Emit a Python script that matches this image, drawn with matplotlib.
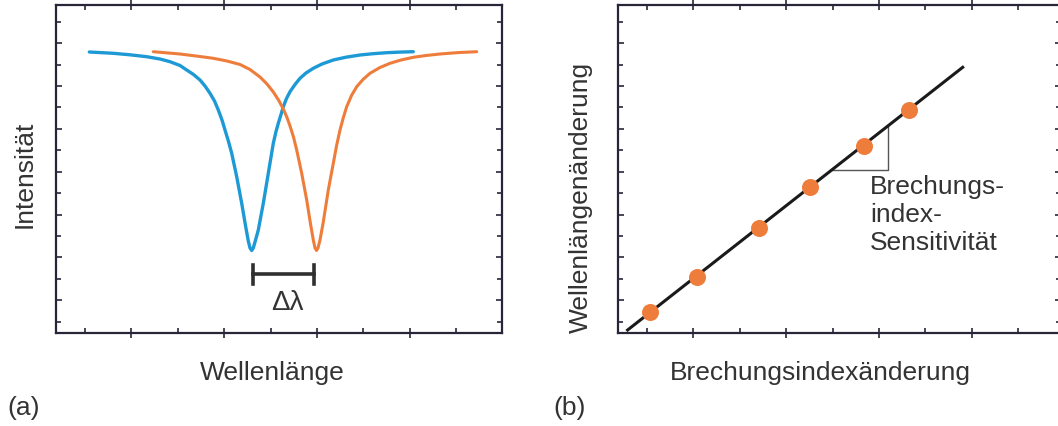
import matplotlib
matplotlib.use("Agg")
import matplotlib.pyplot as plt
from matplotlib.ticker import FixedLocator, NullFormatter

plt.rcParams['font.family'] = ['Liberation Sans', 'DejaVu Sans']

# ---------------- data (arbitrary units) ----------------
# Panel (a): two resonance dips, wavelength (a.u.) vs intensity (a.u.)
blue_x = [33.3, 57.3, 74, 90.7, 104, 114, 124, 130.7, 137.5, 144, 149, 154, 158.5, 162.3,
          166, 169, 172.5, 175.7, 180.7, 185.7, 189.7, 192.3, 194, 195.7, 197.3, 199,
          202.3, 207.3, 212.3, 217.3, 220, 222.3, 225, 227.3, 230.5, 234, 239, 244, 250,
          257.3, 266, 277.3, 290, 304, 317, 330.7, 344, 357.3]
blue_y = [281, 279.7, 278.2, 276.3, 274, 271.3, 267.5, 263, 258.5, 253, 247, 239.7, 232, 223,
          213, 203, 191.5, 179.7, 156.3, 129.7, 106.3, 92, 85, 82.5, 85, 91,
          103, 129.7, 159.7, 189.7, 201.5, 209.7, 218.5, 226.3, 234.5, 241.3, 248.5, 254.7, 260,
          264.7, 269, 273, 275.8, 278, 279.3, 280.3, 280.9, 281.3]

orange_x = [97.3, 124, 144, 157.3, 171, 184, 194, 204, 211, 217.3, 222.5, 227.3, 231, 234,
            237.5, 240.7, 245.7, 250.7, 254.7, 257.3, 259, 260.5, 262, 264, 267.3, 272.3,
            277.3, 280.5, 284, 287.5, 290.7, 295.5, 300.7, 307, 314, 324, 334, 345, 357.3,
            370, 384, 402, 420.7]
orange_y = [281.3, 279, 276.5, 274.7, 272, 268.5, 263.5, 256, 249, 241, 233, 224, 215.5, 207,
            196, 183, 159.7, 133, 108, 93, 85, 82.5, 85, 93, 111, 143,
            169.7, 187, 203, 216, 226.3, 237.5, 246.3, 253.5, 259.7, 265.5, 269.7, 273, 275.7,
            277.5, 279, 280.4, 281.3]

delta_x = [196.5, 257.5]   # Δλ bracket (between the two minima)
delta_y = 59

# Panel (b): refractive index change (a.u.) vs wavelength shift (a.u.)
fit_x = [9.6, 344.7]
fit_y = [3.0, 265.7]
pts_x = [31.5, 78.7, 141, 192.1, 246.3, 290.8]
pts_y = [21, 56.2, 105, 145.8, 187.5, 222.6]
tri_x = [213.7, 269.7]     # slope triangle horizontal extent

# ticks (a.u.)
xmaj = [75.4, 168.2, 261.0, 353.8, 446.6]
xmin = [29.0, 121.8, 214.6, 307.4, 400.2]
ymaj = [32.7, 75.6, 118.4, 161.3, 204.1, 247.0, 289.8]
ymin = [11.3, 54.2, 97.0, 139.9, 182.7, 225.6, 268.4, 311.3]

# ---------------- styling ----------------
W, H = 1058, 426
fig = plt.figure(figsize=(W / 100, H / 100), dpi=100)
fig.patch.set_facecolor('white')

spine_c = '#262638'
text_c = '#333333'
blue_c = '#1d9ad6'
orange_c = '#ee7d3c'
FS = 19

def px_axes(l, r, t, b):
    return fig.add_axes([l / W, 1 - b / H, (r - l) / W, (b - t) / H])

def style(ax, xr):
    ax.set_xlim(0, xr)
    ax.set_ylim(-0.3, 328)
    for s in ax.spines.values():
        s.set_color(spine_c)
        s.set_linewidth(1.6)
    ax.xaxis.set_major_locator(FixedLocator(xmaj))
    ax.xaxis.set_minor_locator(FixedLocator(xmin))
    ax.yaxis.set_major_locator(FixedLocator(ymaj))
    ax.yaxis.set_minor_locator(FixedLocator(ymin))
    ax.xaxis.set_major_formatter(NullFormatter())
    ax.yaxis.set_major_formatter(NullFormatter())
    ax.tick_params(which='both', direction='in', top=True, right=True,
                   color=spine_c, width=1.2)
    ax.tick_params(which='major', length=4.5)
    ax.tick_params(which='minor', length=3.5)
    ax.tick_params(axis='x', which='major', direction='inout', length=7)
    ax.set_facecolor('white')

# ---------------- panel (a) ----------------
ax1 = px_axes(56, 501.7, 5, 333.3)
style(ax1, 445.7)
ax1.plot(blue_x, blue_y, color=blue_c, lw=2.4, solid_capstyle='round', solid_joinstyle='round')
ax1.plot(orange_x, orange_y, color=orange_c, lw=2.2, solid_capstyle='round', solid_joinstyle='round')
ax1.plot(delta_x, [delta_y, delta_y], color='#303030', lw=2.6)
for xx in delta_x:
    ax1.plot([xx, xx], [delta_y - 9.5, delta_y + 9.5], color='#303030', lw=2.6)
ax1.text(sum(delta_x) / 2 + 4, 30, 'Δλ', fontsize=20, color=text_c,
         ha='center', va='center')

fig.text(25 / W, 1 - 174 / H, 'Intensität', rotation=90, fontsize=FS, color=text_c,
         ha='center', va='center')
fig.text(272 / W, 1 - 373 / H, 'Wellenlänge', fontsize=FS, color=text_c,
         ha='center', va='center')
fig.text(7 / W, 1 - 408 / H, '(a)', fontsize=FS, color=text_c, ha='left', va='center')

# ---------------- panel (b) ----------------
ax2 = px_axes(618, 1061, 5, 333.3)
style(ax2, 443)
ax2.plot(fit_x, fit_y, color='#1a1a1a', lw=2.2, zorder=2)
ax2.scatter(pts_x, pts_y, s=150, color=orange_c, zorder=3, linewidths=0)
slope = (fit_y[1] - fit_y[0]) / (fit_x[1] - fit_x[0])
ty0 = fit_y[0] + slope * (tri_x[0] - fit_x[0])
ty1 = fit_y[0] + slope * (tri_x[1] - fit_x[0])
ax2.plot([tri_x[0], tri_x[1], tri_x[1]], [ty0, ty0, ty1], color='#555555', lw=1.0, zorder=1)
ax2.text(252, 158, 'Brechungs-\nindex-\nSensitivität', fontsize=FS, color=text_c,
         ha='left', va='top', linespacing=1.22)

fig.text(581 / W, 1 - 197 / H, 'Wellenlängenänderung', rotation=90, fontsize=FS,
         color=text_c, ha='center', va='center')
fig.text(820 / W, 1 - 373 / H, 'Brechungsindexänderung', fontsize=FS, color=text_c,
         ha='center', va='center')
fig.text(553 / W, 1 - 408 / H, '(b)', fontsize=FS, color=text_c, ha='left', va='center')

fig.savefig('out.png', dpi=100, facecolor='white')
